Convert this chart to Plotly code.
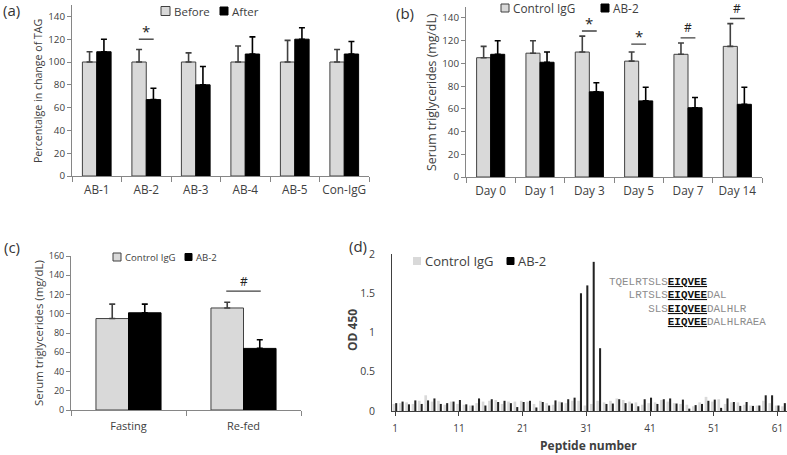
import plotly.graph_objects as go

W, H = 787, 455

# ---------------- data ----------------
# (a)
a_cats = ["AB-1", "AB-2", "AB-3", "AB-4", "AB-5", "Con-IgG"]
a_before = [100, 100, 100, 100, 100, 100]
a_before_err = [9, 11, 8, 14, 19, 11]
a_after = [109, 67, 80, 107, 120, 107]
a_after_err = [11, 10, 16, 15, 10, 11]
a_ticks = [0, 20, 40, 60, 80, 100, 120, 140]
a_sig = [("AB-2", "*", 120)]

# (b)
b_cats = ["Day 0", "Day 1", "Day 3", "Day 5", "Day 7", "Day 14"]
b_ctrl = [105, 109, 110, 102, 108, 115]
b_ctrl_err = [10, 11, 14, 8, 10, 20]
b_ab2 = [108, 101, 75, 67, 61, 64]
b_ab2_err = [12, 9, 8, 12, 9, 15]
b_ticks = [0, 20, 40, 60, 80, 100, 120, 140]
b_sig = [("Day 3", "*", 128.5), ("Day 5", "*", 117), ("Day 7", "#", 122.5), ("Day 14", "#", 139.5)]

# (c)
c_cats = ["Fasting", "Re-fed"]
c_ctrl = [95, 106]
c_ctrl_err = [15, 6]
c_ab2 = [101, 64]
c_ab2_err = [9, 9]
c_ticks = [0, 20, 40, 60, 80, 100, 120, 140, 160]
c_sig = [("Re-fed", "#", 123.5)]

# (d)
d_peptides = list(range(1, 63))
d_ctrl = [0.09, 0.10, 0.11, 0.09, 0.13, 0.20, 0.12, 0.13, 0.08, 0.12,
          0.09, 0.08, 0.07, 0.10, 0.12, 0.13, 0.14, 0.09, 0.12, 0.12,
          0.13, 0.12, 0.09, 0.13, 0.10, 0.08, 0.12, 0.10, 0.13, 0.13,
          0.07, 0.09, 0.13, 0.11, 0.13, 0.16, 0.14, 0.12, 0.11, 0.08,
          0.10, 0.11, 0.14, 0.12, 0.10, 0.09, 0.08, 0.06, 0.11, 0.18,
          0.12, 0.15, 0.09, 0.11, 0.11, 0.08, 0.07, 0.07, 0.13, 0.10,
          0.07, 0.06]
d_ab2 = [0.10, 0.12, 0.085, 0.135, 0.09, 0.135, 0.16, 0.09, 0.10, 0.12,
         0.14, 0.085, 0.07, 0.16, 0.07, 0.15, 0.115, 0.13, 0.10, 0.05,
         0.115, 0.13, 0.045, 0.115, 0.07, 0.135, 0.11, 0.15, 0.17, 1.5,
         1.6, 1.9, 0.8, 0.09, 0.095, 0.15, 0.10, 0.095, 0.06, 0.15,
         0.17, 0.09, 0.15, 0.16, 0.095, 0.145, 0.03, 0.075, 0.09, 0.13,
         0.145, 0.04, 0.16, 0.115, 0.065, 0.115, 0.065, 0.07, 0.20, 0.20,
         0.07, 0.10]
d_xticks = [1, 11, 21, 31, 41, 51, 61]
d_yticks = [0, 0.5, 1, 1.5, 2]
d_yticktext = ["0", "0.5", "1", "1.5", "2"]
d_seqs = [
    ("TQELRTSLS", "EIQVEE", ""),
    ("LRTSLS", "EIQVEE", "DAL"),
    ("SLS", "EIQVEE", "DALHLR"),
    ("", "EIQVEE", "DALHLRAEA"),
]

# ---------------- style ----------------
FONT = "Open Sans, Lato, sans-serif"
MONO = "Courier New, Liberation Mono, monospace"
LIGHT = "#d9d9d9"
EDGE = "#404040"
AXIS = "#868686"
TXT = "#404040"


def px(x):
    return x / W


def py(y):
    return 1 - y / H


fig = go.Figure()


def err(vals, color):
    return dict(type="data", array=vals, arrayminus=[0] * len(vals), symmetric=False,
                color=color, thickness=1.6, width=3)


def pair(xa, ya, cats, v1, e1, v2, e2, w):
    fig.add_trace(go.Bar(x=cats, y=v1, width=w, offset=-w, xaxis=xa, yaxis=ya,
                         marker=dict(color=LIGHT, line=dict(color=EDGE, width=1)),
                         error_y=err(e1, EDGE), showlegend=False, name="a"))
    fig.add_trace(go.Bar(x=cats, y=v2, width=w, offset=0, xaxis=xa, yaxis=ya,
                         marker=dict(color="#000000", line=dict(color="#000000", width=1)),
                         error_y=err(e2, "#000000"), showlegend=False, name="b"))


pair("x", "y", a_cats, a_before, a_before_err, a_after, a_after_err, 0.29)
pair("x2", "y2", b_cats, b_ctrl, b_ctrl_err, b_ab2, b_ab2_err, 0.285)
pair("x3", "y3", c_cats, c_ctrl, c_ctrl_err, c_ab2, c_ab2_err, 0.283)

fig.add_trace(go.Bar(x=d_peptides, y=d_ctrl, width=0.42, offset=-0.42, xaxis="x4", yaxis="y4",
                     marker=dict(color=LIGHT, line=dict(width=0)), showlegend=False, name="Control IgG"))
fig.add_trace(go.Bar(x=d_peptides, y=d_ab2, width=0.32, offset=0, xaxis="x4", yaxis="y4",
                     marker=dict(color="#222222", line=dict(width=0)), showlegend=False, name="AB-2"))

cat_x = dict(type="category", showline=True, linecolor=AXIS, linewidth=1, ticks="outside",
             tickson="boundaries", ticklen=5, tickcolor=AXIS, showgrid=False, zeroline=False,
             tickangle=0, automargin=False, ticklabelstandoff=3,
             tickfont=dict(family=FONT, size=11.8, color=TXT), fixedrange=True)
val_y = dict(showline=True, linecolor=AXIS, linewidth=1, ticks="outside", ticklen=4, tickcolor=AXIS,
             showgrid=False, zeroline=False, automargin=False,
             tickfont=dict(family=FONT, size=9.8, color=TXT))

fig.update_layout(
    width=W, height=H, margin=dict(l=0, r=0, t=0, b=0, autoexpand=False),
    paper_bgcolor="white", plot_bgcolor="white", barmode="overlay",
    showlegend=False,
    xaxis=dict(cat_x, domain=[px(72), px(369)], anchor="y"),
    yaxis=dict(val_y, domain=[py(176), py(5)], range=[0, 150], tickvals=a_ticks, anchor="x"),
    xaxis2=dict(cat_x, domain=[px(466), px(762)], anchor="y2"),
    yaxis2=dict(val_y, domain=[py(177), py(6.6)], range=[0, 150], tickvals=b_ticks, anchor="x2"),
    xaxis3=dict(cat_x, domain=[px(71), px(301)], anchor="y3", ticklabelstandoff=6,
                tickfont=dict(family=FONT, size=11, color=TXT)),
    yaxis3=dict(val_y, domain=[py(410), py(256)], range=[0, 160], tickvals=c_ticks, anchor="x3",
                tickfont=dict(family=FONT, size=9, color=TXT)),
    xaxis4=dict(showline=True, linecolor="#404040", linewidth=1, ticks="outside", ticklen=4,
                tickcolor="#404040", showgrid=False, zeroline=False, range=[0.5, 62.5],
                tickvals=d_xticks, domain=[px(392), 1.0], anchor="y4", automargin=False,
                ticklabelstandoff=4, tickangle=0,
                tickfont=dict(family=FONT, size=10, color=TXT)),
    yaxis4=dict(showline=True, linecolor="#404040", linewidth=1, ticks="", showgrid=False,
                zeroline=False, range=[0, 2], tickvals=d_yticks, ticktext=d_yticktext,
                domain=[py(411), py(254)], anchor="x4", automargin=False, ticklabelstandoff=14,
                tickfont=dict(family=FONT, size=10.5, color=TXT)),
)

ann = []
shapes = []


def text(x, y, t, size, color=TXT, family=FONT, angle=0, xanchor="center", yanchor="middle"):
    ann.append(dict(x=x, y=y, xref="paper", yref="paper", text=t, showarrow=False,
                    font=dict(family=family, size=size, color=color), textangle=angle,
                    xanchor=xanchor, yanchor=yanchor))


def sig(xa, ya, cats, items, w, unit):
    for cat, sym, yv in items:
        i = cats.index(cat)
        shapes.append(dict(type="line", xref=xa, yref=ya, x0=i - w / 2, x1=i + w / 2,
                           y0=yv, y1=yv, line=dict(color=EDGE, width=1.4)))
        if sym == "*":
            ann.append(dict(x=i, y=yv + 8 * unit, xref=xa, yref=ya, text=sym, showarrow=False,
                            font=dict(family=FONT, size=15, color="#222222"), yanchor="middle",
                            borderpad=0))
        else:
            ann.append(dict(x=i, y=yv + 10 * unit, xref=xa, yref=ya, text=sym, showarrow=False,
                            font=dict(family=FONT, size=12, color="#222222"), yanchor="middle",
                            borderpad=0))


sig("x", "y", a_cats, a_sig, 0.3, 0.88)
sig("x2", "y2", b_cats, b_sig, 0.3, 0.88)
sig("x3", "y3", c_cats, c_sig, 0.3, 1.04)


def legend_item(x0, yc, size, fill, edge, label, fsize):
    shapes.append(dict(type="rect", xref="paper", yref="paper",
                       x0=px(x0), x1=px(x0 + size), y0=py(yc + size / 2), y1=py(yc - size / 2),
                       fillcolor=fill, line=dict(color=edge, width=1 if edge else 0)))
    text(px(x0 + size + 2), py(yc), label, fsize, xanchor="left")


# legends
legend_item(161, 11, 9, LIGHT, EDGE, "Before", 11.5)
legend_item(220, 11, 8, "#000", "#000", "After", 11.5)
legend_item(501, 8, 8, LIGHT, EDGE, "Control IgG", 11.8)
legend_item(601, 8, 8, "#000", "#000", "AB-2", 11.8)
legend_item(113, 257, 8, LIGHT, EDGE, "Control IgG", 9.6)
legend_item(185, 257, 7, "#000", "#000", "AB-2", 9.6)
legend_item(413, 261, 8, LIGHT, None, "Control IgG", 13)
legend_item(507, 261, 7, "#000", "#000", "AB-2", 13)

# panel labels
text(px(1), py(10), "(a)", 15, color="#333333", xanchor="left")
text(px(394), py(13), "(b)", 15, color="#333333", xanchor="left")
text(px(2), py(247), "(c)", 15, color="#333333", xanchor="left")
text(px(369), py(246), "(d)", 15, color="#333333", xanchor="right")

# axis titles
text(px(38), py(91), "Percentalge in change of TAG", 10.6, angle=-90)
text(px(432), py(92), "Serum triglycerides (mg/dL)", 12.3, angle=-90)
text(px(38), py(333), "Serum triglycerides (mg/dL)", 11.4, angle=-90)
text(px(352), py(330), "<b>OD 450</b>", 12, angle=-90)
text(px(588), py(445), "<b>Peptide number</b>", 12)

# sequence alignment
seq_y = [282, 295, 308.5, 322]
for k, (pre, core, post) in enumerate(d_seqs):
    pad = "\u00a0" * (9 - len(pre))
    t = (pad + "<span style='color:#8c8c8c'>" + pre + "</span>"
         + "<b><u>" + core + "</u></b>"
         + "<span style='color:#8c8c8c'>" + post + "</span>")
    text(px(607), py(seq_y[k]), t, 10.9, color="#111111", family=MONO, xanchor="left")

fig.update_layout(annotations=ann, shapes=shapes)
fig.write_html("out.html",
               config={"displayModeBar": False, "staticPlot": True},
               post_script="document.body.style.margin='0px';document.body.style.padding='0px';")
